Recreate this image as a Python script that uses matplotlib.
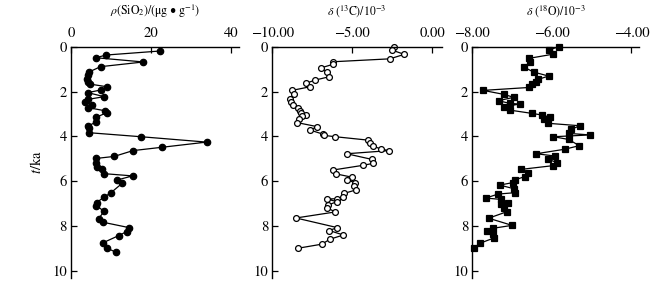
import matplotlib
matplotlib.use("Agg")
import matplotlib.pyplot as plt

plt.rcParams['font.family'] = ['STIXGeneral', 'DejaVu Serif']
plt.rcParams['mathtext.fontset'] = 'stix'

# SiO2 content (ug/g) vs age (ka)
sio2_t = [0.19, 0.37, 0.49, 0.68, 0.89, 1.12, 1.28, 1.44, 1.58, 1.67, 1.79, 1.93,
          2.05, 2.23, 2.35, 2.46, 2.59, 2.72, 2.86, 2.95, 3.15, 3.36, 3.54, 3.63,
          3.84, 4.02, 4.26, 4.49, 4.64, 4.90, 4.99, 5.21, 5.36, 5.46, 5.67, 5.77,
          5.95, 6.10, 6.52, 6.73, 6.96, 7.10, 7.35, 7.68, 7.84, 8.08, 8.26, 8.44,
          8.75, 9.00, 9.18]
sio2 = [22.3, 8.8, 6.2, 18.1, 7.4, 4.6, 4.2, 4.1, 4.3, 4.8, 9.1, 7.5,
        4.2, 8.3, 4.3, 3.5, 5.2, 4.3, 8.5, 8.9, 6.3, 6.3, 4.3, 4.4,
        4.5, 17.5, 33.9, 22.8, 15.5, 10.8, 6.3, 6.2, 6.4, 7.7, 8.3, 15.4,
        11.6, 12.8, 10.0, 8.2, 6.4, 6.3, 8.3, 6.9, 8.0, 14.5, 13.9, 11.9,
        8.1, 9.1, 11.2]

# delta 13C (10^-3) vs age (ka)
c13_t = [0.00, 0.15, 0.34, 0.54, 0.67, 0.79, 0.94, 1.13, 1.34, 1.49, 1.64, 1.79,
         1.95, 2.13, 2.32, 2.46, 2.60, 2.72, 2.87, 2.98, 3.05, 3.08, 3.23, 3.39,
         3.57, 3.72, 3.90, 3.96, 4.02, 4.17, 4.29, 4.42, 4.57, 4.64, 4.78, 5.03,
         5.21, 5.30, 5.51, 5.68, 5.83, 5.95, 6.07, 6.22, 6.40, 6.55, 6.70, 6.79,
         6.80, 6.92, 7.07, 7.19, 7.38, 7.65, 8.08, 8.21, 8.41, 8.60, 8.82, 9.00]
c13 = [-2.40, -2.52, -1.75, -2.65, -6.19, -6.23, -6.94, -6.60, -6.44, -7.33, -7.92, -7.65,
       -8.77, -8.65, -8.90, -8.83, -8.69, -8.42, -8.27, -8.21, -7.90, -8.17, -8.33, -8.44,
       -7.19, -7.65, -6.85, -6.77, -6.06, -4.04, -3.90, -3.73, -3.23, -2.69, -5.35, -3.79,
       -3.69, -4.35, -6.23, -6.02, -5.00, -5.31, -4.85, -4.90, -4.79, -5.50, -5.56, -5.96,
       -6.60, -5.96, -6.50, -6.60, -6.06, -8.52, -5.94, -6.44, -5.56, -6.40, -6.90, -8.38]

# delta 18O (10^-3) vs age (ka)
o18_t = [0.00, 0.15, 0.33, 0.52, 0.70, 0.92, 1.13, 1.31, 1.46, 1.56, 1.67, 1.82,
         1.95, 2.13, 2.26, 2.41, 2.53, 2.56, 2.68, 2.83, 2.98, 3.05, 3.15, 3.24,
         3.42, 3.53, 3.69, 3.87, 3.94, 4.02, 4.14, 4.42, 4.58, 4.78, 4.88, 5.03,
         5.18, 5.31, 5.48, 5.65, 5.80, 5.95, 6.07, 6.18, 6.34, 6.52, 6.58, 6.76,
         6.82, 7.00, 7.04, 7.20, 7.37, 7.66, 7.98, 8.11, 8.21, 8.38, 8.54, 8.78, 9.00]
o18 = [-5.83, -6.08, -5.96, -6.58, -6.54, -6.69, -6.46, -6.08, -6.35, -6.41, -6.49, -6.58,
       -7.73, -7.20, -6.96, -7.34, -7.06, -6.81, -7.21, -7.06, -6.49, -6.25, -6.04, -6.20,
       -6.10, -5.29, -5.52, -5.58, -5.04, -5.96, -5.58, -5.31, -5.68, -6.39, -5.93, -6.09,
       -5.86, -5.96, -6.78, -6.59, -6.68, -6.93, -6.98, -7.31, -6.96, -6.92, -7.35, -7.66,
       -7.28, -7.09, -7.27, -7.21, -7.13, -7.59, -7.00, -7.48, -7.63, -7.47, -7.45, -7.81, -7.96]

y_ticks = [0, 2, 4, 6, 8, 10]
sio2_ticks = [0, 20, 40]
sio2_labels = ['0', '20', '40']
c13_ticks = [-10, -5, 0]
c13_labels = ['\u221210.00', '\u22125.00', '0.00']
o18_ticks = [-8, -6, -4]
o18_labels = ['\u22128.00', '\u22126.00', '\u22124.00']

fig = plt.figure(figsize=(6.69, 2.94), dpi=100)

panels = [
    dict(rect=[0.1061, 0.053, 0.2511, 0.788], x=sio2, t=sio2_t, xlim=(0, 42),
         ticks=sio2_ticks, labels=sio2_labels, marker='o', mfc='black', ms=4.6,
         title='$\\rho$(SiO$_2$)/(\u03bcg \u2022 g$^{-1}$)'),
    dict(rect=[0.407, 0.053, 0.2535, 0.788], x=c13, t=c13_t, xlim=(-10, 0.6),
         ticks=c13_ticks, labels=c13_labels, marker='o', mfc='white', ms=4.2,
         title='$\\delta$ ($^{13}$C)/10$^{-3}$'),
    dict(rect=[0.706, 0.053, 0.2496, 0.788], x=o18, t=o18_t, xlim=(-8, -3.8),
         ticks=o18_ticks, labels=o18_labels, marker='s', mfc='black', ms=4.2,
         title='$\\delta$ ($^{18}$O)/10$^{-3}$'),
]

for i, p in enumerate(panels):
    ax = fig.add_axes(p['rect'])
    ax.plot(p['x'], p['t'], color='black', lw=0.9, marker=p['marker'],
            ms=p['ms'], mfc=p['mfc'], mec='black', mew=0.9, clip_on=False)
    ax.set_xlim(*p['xlim'])
    ax.set_ylim(10.35, 0)
    ax.spines['right'].set_visible(False)
    ax.spines['bottom'].set_visible(False)
    for s in ('top', 'left'):
        ax.spines[s].set_linewidth(1.0)
    ax.xaxis.tick_top()
    ax.set_xticks(p['ticks'])
    ax.set_xticklabels(p['labels'])
    ax.set_yticks(y_ticks)
    ax.tick_params(direction='in', length=4, width=0.9, labelsize=10.5)
    ax.tick_params(axis='x', pad=5)
    ax.tick_params(axis='y', pad=3)
    ax.set_title(p['title'], fontsize=8.5, pad=23)
    if i == 0:
        ax.set_ylabel('$t$/ka', fontsize=10.5, labelpad=6)

fig.savefig('out.png', dpi=100)
